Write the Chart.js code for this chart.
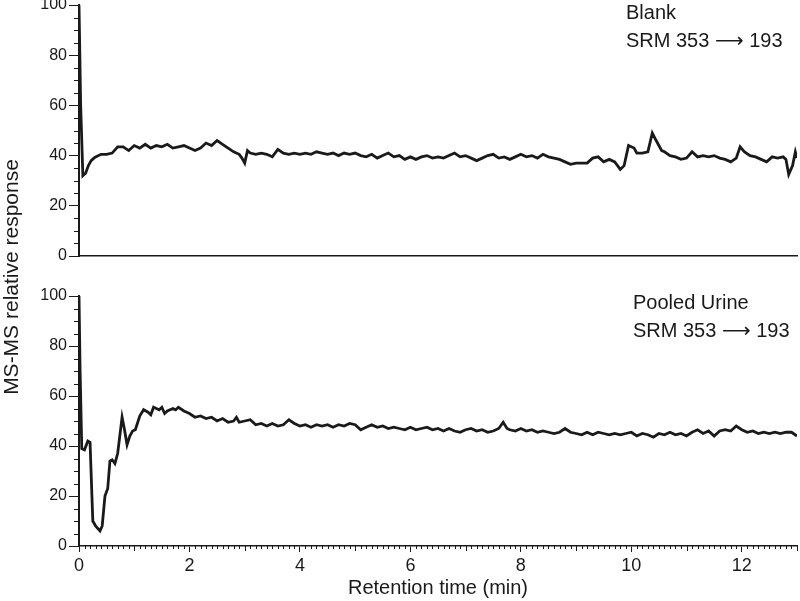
<!DOCTYPE html>
<html>
<head>
<meta charset="utf-8">
<script src="https://cdn.jsdelivr.net/npm/chart.js@4/dist/chart.umd.min.js"></script>
<style>
  html, body { margin: 0; padding: 0; background: #fff; }
  #wrap { position: relative; width: 800px; height: 601px; overflow: hidden; }
  #bottomBox { position: absolute; left: 0; top: 0; width: 800px; height: 601px; }
  #topBox { position: absolute; left: 0; top: -10px; width: 800px; height: 611px; }
</style>
</head>
<body>
<div id="wrap">
  <div id="bottomBox"><canvas id="urine"></canvas></div>
  <div id="topBox"><canvas id="blank"></canvas></div>
</div>
<script>
// retention time (min) and relative response
const blankTime = [
  0, 0.03, 0.07, 0.12, 0.17, 0.22, 0.27, 0.3, 0.4, 0.5,
  0.6, 0.7, 0.8, 0.9, 1.0, 1.1, 1.2, 1.3, 1.4, 1.5,
  1.6, 1.7, 1.8, 1.9, 2.0, 2.1, 2.2, 2.3, 2.4, 2.5,
  2.6, 2.7, 2.8, 2.9, 2.95, 3.0, 3.05, 3.1, 3.2, 3.3,
  3.4, 3.5, 3.6, 3.7, 3.8, 3.9, 4.0, 4.1, 4.2, 4.3,
  4.4, 4.5, 4.6, 4.7, 4.8, 4.9, 5.0, 5.1, 5.2, 5.3,
  5.4, 5.5, 5.6, 5.7, 5.8, 5.9, 6.0, 6.1, 6.2, 6.3,
  6.4, 6.5, 6.6, 6.7, 6.8, 6.9, 7.0, 7.1, 7.2, 7.3,
  7.4, 7.5, 7.6, 7.7, 7.8, 7.9, 8.0, 8.1, 8.2, 8.3,
  8.4, 8.5, 8.6, 8.7, 8.8, 8.9, 9.0, 9.1, 9.2, 9.3,
  9.4, 9.5, 9.6, 9.7, 9.8, 9.87, 9.95, 10.05, 10.1, 10.2,
  10.3, 10.38, 10.45, 10.55, 10.6, 10.7, 10.8, 10.9, 11.0, 11.1,
  11.2, 11.3, 11.4, 11.5, 11.6, 11.7, 11.8, 11.9, 11.97, 12.05,
  12.15, 12.25, 12.35, 12.45, 12.55, 12.65, 12.75, 12.8, 12.85, 12.92,
  12.97, 13.0
];
const blankResp = [
  100, 60, 32, 33, 36, 38, 39, 39.5, 40.5, 40.5,
  41, 43.5, 43.5, 42, 44, 43, 44.5, 43, 44, 43.5,
  44.5, 43, 43.5, 44, 43, 42, 43, 45, 44, 46,
  44.5, 43, 41.5, 40.5, 39, 37, 42, 41, 40.5, 41,
  40.5, 39.5, 42.5, 41, 40.5, 41, 40.5, 41, 40.5, 41.5,
  41, 40.5, 41, 40, 41, 40.5, 41, 40, 39.5, 40.5,
  39, 40, 41, 39.5, 40, 38.5, 39.5, 38.5, 39.5, 40,
  39, 39.5, 39, 40, 41, 39.5, 40, 39, 38, 39,
  40, 40.5, 39, 39.5, 38.5, 39.5, 40.5, 39.5, 40, 39,
  40.5, 39.5, 39, 38.5, 37.5, 36.5, 37, 37, 37, 39,
  39.5, 37.5, 38.5, 37.5, 34.5, 36, 44, 43, 41, 41,
  41.5, 49, 46, 42, 41.5, 40, 39.5, 38.5, 39, 41.5,
  39.5, 40, 39.5, 40, 39, 38.5, 37.5, 39, 43.5, 41.5,
  40, 39.5, 38.5, 37.5, 39.5, 39, 39.5, 38.5, 32.5, 36,
  41.5, 39
];
const urineTime = [
  0, 0.02, 0.05, 0.1, 0.16, 0.2, 0.25, 0.3, 0.38, 0.42,
  0.47, 0.52, 0.56, 0.6, 0.65, 0.7, 0.78, 0.82, 0.87, 0.92,
  0.97, 1.02, 1.1, 1.17, 1.25, 1.3, 1.35, 1.4, 1.45, 1.5,
  1.55, 1.6, 1.7, 1.75, 1.8, 1.9, 2.0, 2.1, 2.2, 2.3,
  2.4, 2.5, 2.6, 2.7, 2.8, 2.85, 2.9, 3.0, 3.1, 3.2,
  3.3, 3.4, 3.5, 3.6, 3.7, 3.8, 3.9, 4.0, 4.1, 4.2,
  4.3, 4.4, 4.5, 4.6, 4.7, 4.8, 4.9, 5.0, 5.1, 5.2,
  5.3, 5.4, 5.5, 5.6, 5.7, 5.8, 5.9, 6.0, 6.1, 6.2,
  6.3, 6.4, 6.5, 6.6, 6.7, 6.8, 6.9, 7.0, 7.1, 7.2,
  7.3, 7.4, 7.5, 7.6, 7.68, 7.75, 7.8, 7.9, 8.0, 8.1,
  8.2, 8.3, 8.4, 8.5, 8.6, 8.7, 8.8, 8.9, 9.0, 9.1,
  9.2, 9.3, 9.4, 9.5, 9.6, 9.7, 9.8, 9.9, 10.0, 10.1,
  10.2, 10.3, 10.4, 10.5, 10.6, 10.7, 10.8, 10.9, 11.0, 11.1,
  11.2, 11.3, 11.4, 11.5, 11.6, 11.7, 11.8, 11.9, 12.0, 12.1,
  12.2, 12.3, 12.4, 12.5, 12.6, 12.7, 12.8, 12.9, 13.0
];
const urineResp = [
  100, 70, 39, 38.5, 42, 41.5, 10, 8, 6, 8,
  20, 23, 34, 34.5, 33, 37, 51.5, 47, 40.5, 44,
  46, 46.5, 52, 54.5, 53.5, 52.5, 55.5, 55, 54.5, 55.5,
  53, 54, 55, 54.5, 55.5, 54, 53, 51.5, 52, 51,
  51.5, 50, 51, 49.5, 50, 51.5, 49.5, 50, 50.5, 48.5,
  49, 48, 49, 48, 48.5, 50.5, 49, 48, 48.5, 47.5,
  48.5, 48, 48.5, 47.5, 48.5, 48, 49, 48.5, 46.5, 47.5,
  48.5, 47.5, 48, 47, 47.5, 47, 46.5, 47.5, 46.5, 47,
  47.5, 46.5, 47, 46, 47, 46, 45.5, 46.5, 47, 46,
  46.5, 45.5, 46, 47, 49.5, 47, 46.5, 46, 47, 46,
  46.5, 45.5, 46, 45.5, 45, 45.5, 47, 45.5, 45, 44.5,
  45.5, 44.5, 45.5, 45, 44.5, 45, 44.5, 45, 45.5, 44,
  45, 44.5, 43.5, 45, 44.5, 45.5, 44.5, 45, 44, 45.5,
  46.5, 45, 46, 44, 46, 46.5, 46, 48, 46.5, 45.5,
  46, 45, 45.5, 45, 45.5, 45, 45.5, 45.5, 44
];
const xTickValues = [0, 2, 4, 6, 8, 10, 12];
const yTickValues = [0, 20, 40, 60, 80, 100];
const blankLabels = ['Blank', 'SRM 353 \u27F6 193'];
const urineLabels = ['Pooled Urine', 'SRM 353 \u27F6 193'];

const FONT = "'Liberation Sans', 'DejaVu Sans', Arial, sans-serif";
const INK = '#1a1a1a';

function toPoints(ts, vs) {
  return ts.map((t, i) => ({ x: t, y: vs[i] }));
}

// small ticks that Chart.js does not draw by itself
const minorTicks = {
  id: 'minorTicks',
  afterDraw(chart, args, opts) {
    const ctx = chart.ctx;
    ctx.save();
    ctx.strokeStyle = INK;
    ctx.lineWidth = 1;
    const ys = chart.scales.y;
    for (let v = 5; v < 100; v += 5) {
      if (v % 20 === 0) continue;
      const py = Math.round(ys.getPixelForValue(v)) + 0.5;
      ctx.beginPath();
      ctx.moveTo(ys.right - 5, py);
      ctx.lineTo(ys.right, py);
      ctx.stroke();
    }
    if (opts.xMinor) {
      const xs = chart.scales.x;
      for (let i = 1; i <= 130; i++) {
        if (i % 20 === 0) continue;
        const px = Math.round(xs.getPixelForValue(i / 10)) + 0.5;
        const len = i % 10 === 0 ? 5 : 3;
        ctx.beginPath();
        ctx.moveTo(px, xs.top);
        ctx.lineTo(px, xs.top + len);
        ctx.stroke();
      }
    }
    ctx.restore();
  }
};

// panel captions and the shared y title
const captions = {
  id: 'captions',
  afterDraw(chart, args, opts) {
    const ctx = chart.ctx;
    const a = chart.chartArea;
    ctx.save();
    ctx.fillStyle = INK;
    ctx.font = '20px ' + FONT;
    ctx.textBaseline = 'alphabetic';
    opts.lines.forEach((s, i) => {
      ctx.fillText(s, opts.x, a.top + opts.dy + i * 28);
    });
    if (opts.yTitle) {
      ctx.font = '21px ' + FONT;
      ctx.translate(18, 277);
      ctx.rotate(-Math.PI / 2);
      ctx.textAlign = 'center';
      ctx.fillText(opts.yTitle, 0, 0);
    }
    ctx.restore();
  }
};

function makeChart(id, ts, vs, isBottom) {
  const ctx = document.getElementById(id).getContext('2d');
  return new Chart(ctx, {
    type: 'line',
    data: {
      datasets: [{
        data: toPoints(ts, vs),
        borderColor: INK,
        borderWidth: 2.8,
        pointRadius: 0,
        tension: 0,
        fill: false
      }]
    },
    options: {
      responsive: true,
      maintainAspectRatio: false,
      animation: false,
      events: [],
      layout: {
        padding: isBottom
          ? { left: 0, right: 3, top: 296, bottom: 0 }
          : { left: 0, right: 3, top: 15, bottom: 345 }
      },
      plugins: {
        legend: { display: false },
        tooltip: { enabled: false },
        minorTicks: { xMinor: isBottom },
        captions: isBottom
          ? { lines: urineLabels, x: 633, dy: 13, yTitle: 'MS-MS relative response' }
          : { lines: blankLabels, x: 626, dy: 14 }
      },
      scales: {
        x: {
          type: 'linear',
          min: 0,
          max: 13,
          afterBuildTicks: s => { s.ticks = xTickValues.map(v => ({ value: v })); },
          afterFit: s => { s.height = isBottom ? 55 : 0; },
          ticks: {
            display: isBottom,
            color: INK,
            padding: 3,
            font: { family: FONT, size: 18 }
          },
          grid: { display: isBottom, drawOnChartArea: false, drawTicks: true, tickLength: 6, tickColor: INK },
          border: { display: true, color: INK, width: 1.5 },
          title: {
            display: isBottom,
            text: 'Retention time (min)',
            color: INK,
            font: { family: FONT, size: 20 },
            padding: { top: 0, bottom: 1 }
          }
        },
        y: {
          min: 0,
          max: 100,
          afterBuildTicks: s => { s.ticks = yTickValues.map(v => ({ value: v })); },
          afterFit: s => { s.width = 79; },
          ticks: {
            color: INK,
            padding: 2,
            font: { family: FONT, size: 16 }
          },
          grid: { drawOnChartArea: false, drawTicks: true, tickLength: 10, tickColor: INK },
          border: { display: true, color: INK, width: 2 }
        }
      }
    },
    plugins: [minorTicks, captions]
  });
}

makeChart('urine', urineTime, urineResp, true);
makeChart('blank', blankTime, blankResp, false);
</script>
</body>
</html>
